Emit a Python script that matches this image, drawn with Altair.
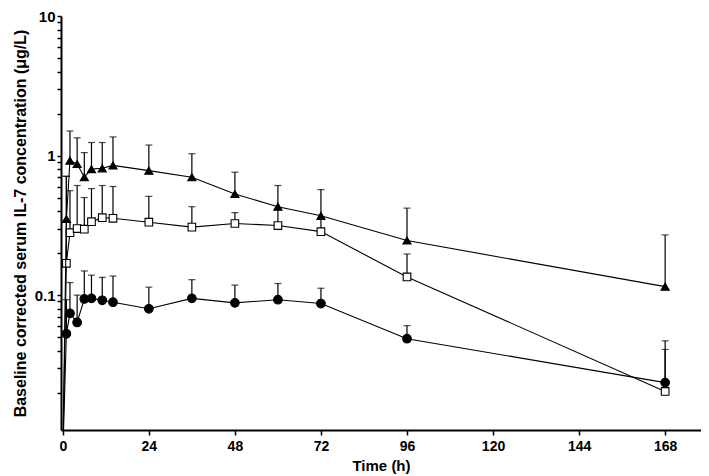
import altair as alt
import pandas as pd

# ---- data ----
times = [0, 1, 2, 4, 6, 8, 11, 14, 24, 36, 48, 60, 72, 96, 168]
tri_mean = [0.007, 0.351, 0.92, 0.87, 0.70, 0.80, 0.81, 0.85, 0.78, 0.70, 0.53, 0.43, 0.37, 0.246, 0.115]
tri_upper = [None, 0.71, 1.50, 1.34, 1.05, 1.24, 1.24, 1.36, 1.19, 1.03, 0.76, 0.61, 0.57, 0.42, 0.27]
sq_mean = [0.007, 0.169, 0.28, 0.30, 0.297, 0.336, 0.359, 0.355, 0.333, 0.307, 0.326, 0.315, 0.285, 0.135, 0.0204]
sq_upper = [None, 0.71, 0.56, 0.61, 0.50, 0.58, 0.61, 0.60, 0.51, 0.43, 0.39, 0.42, 0.36, 0.197, 0.047]
ci_mean = [0.007, 0.0528, 0.074, 0.0637, 0.0938, 0.0948, 0.0918, 0.0889, 0.0798, 0.0948, 0.088, 0.0927, 0.087, 0.0487, 0.0236]
ci_upper = [None, 0.0927, 0.123, 0.100, 0.149, 0.139, 0.134, 0.137, 0.114, 0.129, 0.118, 0.121, 0.112, 0.0604, 0.0408]

x_ticks = [0, 24, 48, 72, 96, 120, 144, 168]
y_major = [0.1, 1, 10]
y_minor = [m * 10.0 ** e for e in (-2, -1, 0) for m in range(2, 10)]

FONT = "Liberation Sans"

def frame(mean, upper, name):
    return pd.DataFrame({"time": times, "value": mean, "upper": upper, "series": name})

x_enc = alt.X("time:Q", scale=alt.Scale(domain=[-0.5, 178], nice=False, zero=False),
              axis=alt.Axis(values=x_ticks, title="Time (h)", tickSize=5, labelPadding=4,
                            titlePadding=5, labelFontSize=14, titleFontSize=15, labelFlush=False))
y_scale = alt.Scale(type="log", domain=[0.0108, 10], nice=False)
y_enc = alt.Y("value:Q", scale=y_scale,
              axis=alt.Axis(values=sorted(y_minor + y_major),
                            labelExpr="datum.value == 0.1 ? '0.1' : datum.value == 1 ? '1' : datum.value == 10 ? '10' : ''",
                            title="Baseline corrected serum IL-7 concentration (\u03bcg/L)",
                            tickSize=4, labelPadding=2, titlePadding=6,
                            labelFontSize=15, titleFontSize=16))

def series_layers(df, shape, filled, size):
    pts = df[df["time"] > 0]
    line = alt.Chart(df).mark_line(color="black", strokeWidth=1.1, clip=True).encode(x=x_enc, y=y_enc)
    err = alt.Chart(pts).mark_rule(color="black", strokeWidth=1.2).encode(
        x="time:Q", y=alt.Y("value:Q", scale=y_scale), y2="upper:Q")
    cap = alt.Chart(pts).mark_tick(color="black", orient="horizontal", size=7, thickness=1.2).encode(
        x="time:Q", y=alt.Y("upper:Q", scale=y_scale))
    mark = alt.Chart(pts).mark_point(shape=shape, filled=True,
                                     fill="black" if filled else "white",
                                     stroke="black", strokeWidth=1.1, size=size, opacity=1).encode(
        x="time:Q", y=alt.Y("value:Q", scale=y_scale))
    return [err, cap, line, mark]

layers = []
layers += series_layers(frame(ci_mean, ci_upper, "circle"), "circle", True, 75)
layers += series_layers(frame(sq_mean, sq_upper, "square"), "square", False, 58)
layers += series_layers(frame(tri_mean, tri_upper, "triangle"), "triangle-up", True, 66)

chart = alt.layer(*layers).properties(
    width=640, height=414,
    autosize=alt.AutoSizeParams(type="none"),
    padding={"left": 53, "top": 8, "right": 0, "bottom": 44},
).configure_view(stroke=None).configure_axis(
    grid=False, domainColor="black", domainWidth=2, tickColor="black", tickWidth=1.5,
    labelFont=FONT, titleFont=FONT, labelFontWeight="bold", titleFontWeight="bold",
    labelColor="black", titleColor="black",
)

chart.save("out.html", embed_options={"renderer": "svg", "actions": False})
